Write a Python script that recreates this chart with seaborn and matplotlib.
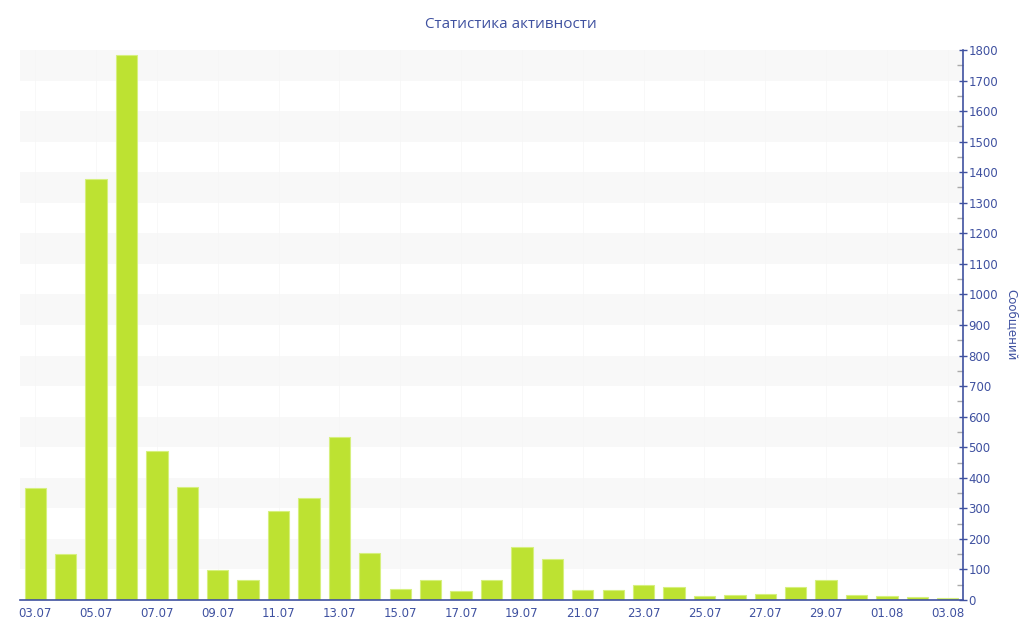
import numpy as np
import pandas as pd
import matplotlib
matplotlib.use("Agg")
import matplotlib.pyplot as plt
import seaborn as sns
from matplotlib.ticker import MultipleLocator

days = ["03.07", "04.07", "05.07", "06.07", "07.07", "08.07", "09.07", "10.07",
        "11.07", "12.07", "13.07", "14.07", "15.07", "16.07", "17.07", "18.07",
        "19.07", "20.07", "21.07", "22.07", "23.07", "24.07", "25.07", "26.07",
        "27.07", "28.07", "29.07", "30.07", "01.08", "02.08", "03.08"]
messages = [365, 150, 1378, 1783, 489, 369, 98, 65,
            291, 333, 533, 153, 35, 67, 29, 65,
            175, 134, 33, 34, 49, 42, 12, 15,
            19, 44, 67, 16, 12, 11, 5]

blue = "#3f51a0"
bar_color = "#bde232"

df = pd.DataFrame({"day": days, "messages": messages})

sns.set_style("white")
plt.rcParams["font.family"] = ["DejaVu Sans"]

fig = plt.figure(figsize=(10.24, 6.4), dpi=100)
ax = fig.add_axes([20 / 1024, 1 - 600 / 640, 943 / 1024, 550 / 640])

# alternating bands
for lo in range(100, 1800, 200):
    ax.axhspan(lo, lo + 100, color="#f8f8f8", zorder=0, lw=0)

sns.barplot(data=df, x="day", y="messages", color=bar_color, width=0.7,
            edgecolor="#d6f07e", linewidth=0.8, saturation=1, ax=ax, zorder=2)

ax.set_xlim(-0.5, len(days) - 0.5)
ax.set_ylim(0, 1800)

ax.set_xticks(range(0, len(days), 2))
ax.set_xticklabels(days[::2])
for x in range(0, len(days), 2):
    ax.axvline(x, color="#f6f6f6", lw=0.5, zorder=1)

ax.yaxis.tick_right()
ax.yaxis.set_label_position("right")
ax.yaxis.set_major_locator(MultipleLocator(100))
ax.yaxis.set_minor_locator(MultipleLocator(50))

ax.tick_params(axis="y", which="major", direction="inout", length=6, width=1,
               color=blue, labelcolor=blue, labelsize=8.5, pad=1)
ax.tick_params(axis="y", which="minor", direction="in", length=4, width=1,
               color="#aaaaaa")
ax.tick_params(axis="x", which="major", direction="out", length=3, width=1,
               color=blue, labelcolor=blue, labelsize=8.5, pad=2)

for side in ["top", "left"]:
    ax.spines[side].set_visible(False)
for side in ["right", "bottom"]:
    ax.spines[side].set_color(blue)
    ax.spines[side].set_linewidth(1.2)
    ax.spines[side].set_zorder(5)

ax.set_xlabel("")
ax.set_ylabel("Сообщений", color=blue, fontsize=8.5, rotation=270, labelpad=14)

fig.text(511 / 1024, 1 - 25 / 640, "Статистика активности", color=blue,
         fontsize=11, ha="center", va="center", family=["Open Sans", "DejaVu Sans"])

fig.savefig("out.png", dpi=100)
